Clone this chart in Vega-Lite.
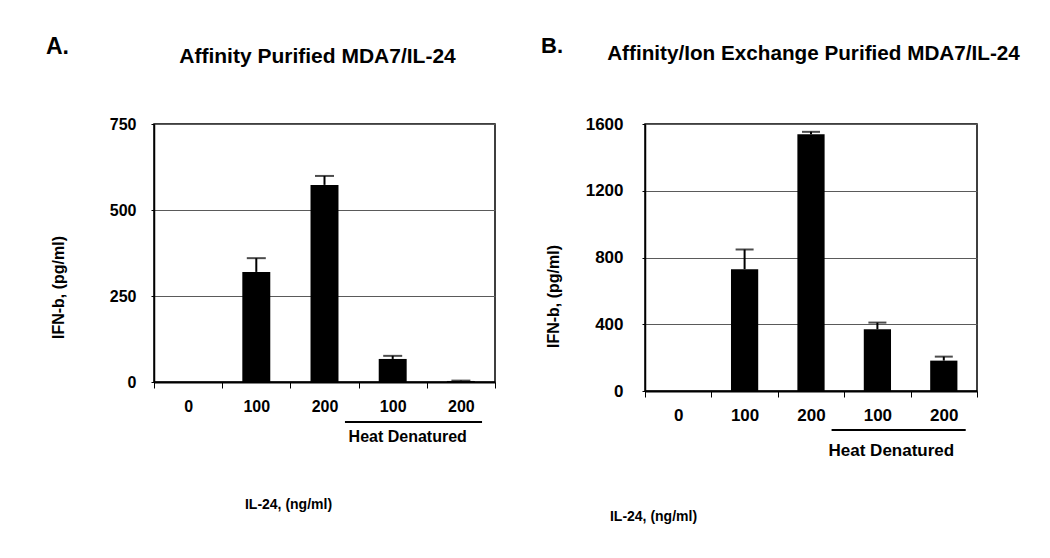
{
  "$schema": "https://vega.github.io/schema/vega-lite/v6.json",
  "background": "white",
  "padding": {"left": 45, "top": 34, "right": 10, "bottom": 10},
  "bounds": "flush",
  "spacing": 150,
  "config": {
    "font": "Liberation Sans",
    "view": {"stroke": "black", "strokeWidth": 1.5},
    "axis": {
      "labelFont": "Liberation Sans", "labelFontWeight": "bold", "labelColor": "black",
      "titleFont": "Liberation Sans", "titleFontWeight": "bold", "titleColor": "black",
      "domainColor": "black", "tickColor": "black", "gridColor": "#5a5a5a", "gridOpacity": 1, "gridWidth": 1
    },
    "title": {"font": "Liberation Sans", "fontWeight": "bold", "color": "black"}
  },
  "datasets": {
    "A": [
      {"dose": "0", "value": 0, "err": null},
      {"dose": "100", "value": 320, "err": 360},
      {"dose": "200", "value": 573, "err": 599},
      {"dose": "100 HD", "value": 67, "err": 76},
      {"dose": "200 HD", "value": 3, "err": 4}
    ],
    "B": [
      {"dose": "0", "value": 0, "err": null},
      {"dose": "100", "value": 730, "err": 848},
      {"dose": "200", "value": 1538, "err": 1553},
      {"dose": "100 HD", "value": 370, "err": 410},
      {"dose": "200 HD", "value": 182, "err": 206}
    ],
    "HD": [
      {"label": "Heat Denatured", "from": "200", "center": "100 HD", "to": "200 HD"}
    ]
  },
  "hconcat": [
    {
      "width": 341, "height": 258,
      "title": {"text": "A.", "anchor": "start", "frame": "group", "dx": -108, "fontSize": 23, "offset": -14},
      "resolve": {"axis": {"x": "independent"}},
      "layer": [
        {
          "data": {"name": "A"},
          "mark": {"type": "bar", "color": "black", "width": {"band": 0.41}},
          "encoding": {
            "x": {"field": "dose", "type": "nominal",
              "scale": {"domain": ["0", "100", "200", "100 HD", "200 HD"], "paddingInner": 0, "paddingOuter": 0},
              "axis": {"orient": "bottom", "tickBand": "extent", "tickSize": 6, "domainWidth": 2, "labelAngle": 0,
                "labelPadding": 10, "labelFontSize": 16, "labelExpr": "split(datum.label, ' ')[0]",
                "title": "IL-24, (ng/ml)", "titleFontSize": 14, "titleX": 134, "titleY": 122,
                "titleAlign": "center", "titleBaseline": "middle"}},
            "y": {"field": "value", "type": "quantitative",
              "scale": {"domain": [0, 750], "nice": false},
              "axis": {"values": [0, 250, 500, 750], "format": "d", "grid": true, "tickSize": 3, "labelPadding": 15, "labelFontSize": 16,
                "domainWidth": 1.5,
                "title": "IFN-b, (pg/ml)", "titleFontSize": 16, "titleX": -96, "titleY": 163,
                "titleAlign": "center", "titleBaseline": "middle", "titleAngle": -90}}
          }
        },
        {
          "data": {"name": "A"},
          "mark": {"type": "rule", "color": "black", "strokeWidth": 2},
          "encoding": {
            "x": {"field": "dose", "type": "nominal",
              "axis": {"orient": "top", "domain": false, "ticks": false, "labels": false, "grid": false,
                "title": "Affinity Purified MDA7/IL-24", "titleFontSize": 21, "titleX": 163, "titleY": -62,
                "titleAlign": "center", "titleBaseline": "alphabetic"}},
            "y": {"field": "value", "type": "quantitative"},
            "y2": {"field": "err"}
          }
        },
        {
          "data": {"name": "A"},
          "mark": {"type": "tick", "color": "black", "thickness": 2, "size": 19},
          "encoding": {
            "x": {"field": "dose", "type": "nominal", "axis": null},
            "y": {"field": "err", "type": "quantitative"}
          }
        },
        {
          "data": {"name": "HD"},
          "mark": {"type": "rule", "color": "black", "strokeWidth": 2},
          "encoding": {
            "x": {"field": "from", "type": "nominal", "bandPosition": 0.8, "axis": null},
            "x2": {"field": "to", "bandPosition": 0.81},
            "y": {"datum": -116}
          }
        },
        {
          "data": {"name": "HD"},
          "mark": {"type": "text", "color": "black", "fontSize": 16, "fontWeight": "bold", "baseline": "middle", "align": "center"},
          "encoding": {
            "x": {"field": "center", "type": "nominal", "bandPosition": 0.72, "axis": null},
            "y": {"datum": -160},
            "text": {"field": "label"}
          }
        }
      ]
    },
    {
      "width": 332, "height": 267,
      "title": {"text": "B.", "anchor": "start", "frame": "group", "dx": -104, "fontSize": 22, "offset": -16},
      "resolve": {"axis": {"x": "independent"}},
      "layer": [
        {
          "data": {"name": "B"},
          "mark": {"type": "bar", "color": "black", "width": {"band": 0.41}},
          "encoding": {
            "x": {"field": "dose", "type": "nominal",
              "scale": {"domain": ["0", "100", "200", "100 HD", "200 HD"], "paddingInner": 0, "paddingOuter": 0},
              "axis": {"orient": "bottom", "tickBand": "extent", "tickSize": 6, "domainWidth": 2, "labelAngle": 0,
                "labelPadding": 10, "labelFontSize": 17, "labelExpr": "split(datum.label, ' ')[0]",
                "title": "IL-24, (ng/ml)", "titleFontSize": 14, "titleX": 8, "titleY": 125,
                "titleAlign": "center", "titleBaseline": "middle"}},
            "y": {"field": "value", "type": "quantitative",
              "scale": {"domain": [0, 1600], "nice": false},
              "axis": {"values": [0, 400, 800, 1200, 1600], "format": "d", "grid": true, "tickSize": 3, "labelPadding": 19, "labelFontSize": 17,
                "domainWidth": 1.5,
                "title": "IFN-b, (pg/ml)", "titleFontSize": 16, "titleX": -92, "titleY": 172,
                "titleAlign": "center", "titleBaseline": "middle", "titleAngle": -90}}
          }
        },
        {
          "data": {"name": "B"},
          "mark": {"type": "rule", "color": "black", "strokeWidth": 2},
          "encoding": {
            "x": {"field": "dose", "type": "nominal",
              "axis": {"orient": "top", "domain": false, "ticks": false, "labels": false, "grid": false,
                "title": "Affinity/Ion Exchange Purified MDA7/IL-24", "titleFontSize": 20.7, "titleX": 168, "titleY": -65,
                "titleAlign": "center", "titleBaseline": "alphabetic"}},
            "y": {"field": "value", "type": "quantitative"},
            "y2": {"field": "err"}
          }
        },
        {
          "data": {"name": "B"},
          "mark": {"type": "tick", "color": "black", "thickness": 2, "size": 18},
          "encoding": {
            "x": {"field": "dose", "type": "nominal", "axis": null},
            "y": {"field": "err", "type": "quantitative"}
          }
        },
        {
          "data": {"name": "HD"},
          "mark": {"type": "rule", "color": "black", "strokeWidth": 2},
          "encoding": {
            "x": {"field": "from", "type": "nominal", "bandPosition": 0.81, "axis": null},
            "x2": {"field": "to", "bandPosition": 0.83},
            "y": {"datum": -234}
          }
        },
        {
          "data": {"name": "HD"},
          "mark": {"type": "text", "color": "black", "fontSize": 17, "fontWeight": "bold", "baseline": "middle", "align": "center"},
          "encoding": {
            "x": {"field": "center", "type": "nominal", "bandPosition": 0.71, "axis": null},
            "y": {"datum": -360},
            "text": {"field": "label"}
          }
        }
      ]
    }
  ]
}
